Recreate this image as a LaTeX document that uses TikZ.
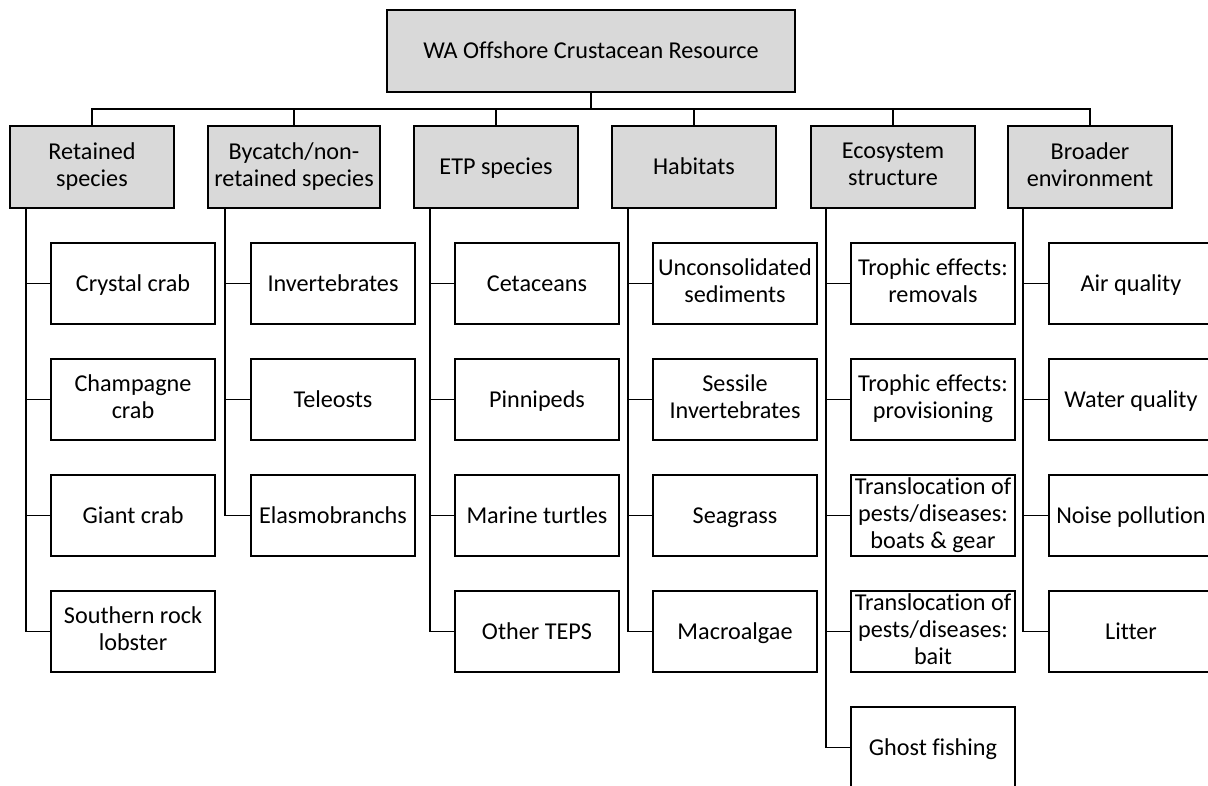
\documentclass[tikz,border=0pt]{standalone}
\usepackage{fontspec}
\setmainfont{Carlito}[Ligatures=NoCommon]
\definecolor{boxgray}{HTML}{D9D9D9}
\newcommand\boxstrut{\rule[-5.5pt]{0pt}{26.5pt}}

\begin{document}
\begin{tikzpicture}[x=1pt, y=-1pt,
  every node/.style={font=\fontsize{24.2}{27}\selectfont, align=center, inner sep=0pt,
    execute at begin node=\boxstrut, execute at end node=\boxstrut},
  rootbox/.style={draw, line width=1.8pt, fill=boxgray, minimum width=408pt, minimum height=82pt},
  catbox/.style={draw, line width=1.8pt, fill=boxgray, minimum width=164pt, minimum height=82pt},
  itembox/.style={draw, line width=1.8pt, fill=white, minimum width=164pt, minimum height=81pt},
  link/.style={line width=1.8pt}]
\clip (0,0) rectangle (1208,785);
\useasboundingbox (0,0) rectangle (1208,785);

% Top level
\node[rootbox] (root) at (591,51) {WA Offshore Crustacean Resource};
\coordinate (bus) at (591,109);

% Components
\node[catbox] (ret) at (92,167) {Retained\\species};
\node[catbox, minimum width=172pt] (byc) at (294,167) {Bycatch/non-\\retained species};
\node[catbox] (etp) at (496,167) {ETP species};
\node[catbox] (hab) at (694,167) {Habitats};
\node[catbox] (eco) at (893,167) {Ecosystem\\structure};
\node[catbox] (env) at (1090,167) {Broader\\environment};

% Retained species
\node[itembox] (ret1) at (133,283.5) {Crystal crab};
\node[itembox] (ret2) at (133,399.5) {Champagne\\crab};
\node[itembox] (ret3) at (133,515.5) {Giant crab};
\node[itembox] (ret4) at (133,631.5) {Southern rock\\lobster};

% Bycatch
\node[itembox] (byc1) at (333,283.5) {Invertebrates};
\node[itembox] (byc2) at (333,399.5) {Teleosts};
\node[itembox] (byc3) at (333,515.5) {Elasmobranchs};

% ETP species
\node[itembox] (etp1) at (537,283.5) {Cetaceans};
\node[itembox] (etp2) at (537,399.5) {Pinnipeds};
\node[itembox] (etp3) at (537,515.5) {Marine turtles};
\node[itembox] (etp4) at (537,631.5) {Other TEPS};

% Habitats
\node[itembox] (hab1) at (735,283.5) {Unconsolidated\\sediments};
\node[itembox] (hab2) at (735,399.5) {Sessile\\Invertebrates};
\node[itembox] (hab3) at (735,515.5) {Seagrass};
\node[itembox] (hab4) at (735,631.5) {Macroalgae};

% Ecosystem structure
\node[itembox] (eco1) at (933,283.5) {Trophic effects:\\removals};
\node[itembox] (eco2) at (933,399.5) {Trophic effects:\\provisioning};
\node[itembox] (eco3) at (933,515.5) {Translocation of\\pests/diseases:\\boats \& gear};
\node[itembox] (eco4) at (933,631.5) {Translocation of\\pests/diseases:\\bait};
\node[itembox] (eco5) at (933,747.5) {Ghost fishing};

% Broader environment
\node[itembox] (env1) at (1131,283.5) {Air quality};
\node[itembox] (env2) at (1131,399.5) {Water quality};
\node[itembox] (env3) at (1131,515.5) {Noise pollution};
\node[itembox] (env4) at (1131,631.5) {Litter};

% Bus lines
\draw[line width=2.8pt] (root.south) -- (bus);
\draw[link] (bus) -| (ret.north);
\draw[link] (bus) -| (byc.north);
\draw[link] (bus) -| (etp.north);
\draw[link] (bus) -| (hab.north);
\draw[link] (bus) -| (eco.north);
\draw[link] (bus) -| (env.north);

% Trunks
\coordinate (retT) at ([xshift=17pt]ret.south west);
\coordinate (bycT) at ([xshift=18pt]byc.south west);
\coordinate (etpT) at ([xshift=17pt]etp.south west);
\coordinate (habT) at ([xshift=17pt]hab.south west);
\coordinate (ecoT) at ([xshift=16pt]eco.south west);
\coordinate (envT) at ([xshift=16pt]env.south west);

\draw[link] (retT) |- (ret1.west);
\draw[link] (retT) |- (ret2.west);
\draw[link] (retT) |- (ret3.west);
\draw[link] (retT) |- (ret4.west);

\draw[link] (bycT) |- (byc1.west);
\draw[link] (bycT) |- (byc2.west);
\draw[link] (bycT) |- (byc3.west);

\draw[link] (etpT) |- (etp1.west);
\draw[link] (etpT) |- (etp2.west);
\draw[link] (etpT) |- (etp3.west);
\draw[link] (etpT) |- (etp4.west);

\draw[link] (habT) |- (hab1.west);
\draw[link] (habT) |- (hab2.west);
\draw[link] (habT) |- (hab3.west);
\draw[link] (habT) |- (hab4.west);

\draw[link] (ecoT) |- (eco1.west);
\draw[link] (ecoT) |- (eco2.west);
\draw[link] (ecoT) |- (eco3.west);
\draw[link] (ecoT) |- (eco4.west);
\draw[link] (ecoT) |- (eco5.west);

\draw[link] (envT) |- (env1.west);
\draw[link] (envT) |- (env2.west);
\draw[link] (envT) |- (env3.west);
\draw[link] (envT) |- (env4.west);
\end{tikzpicture}
\end{document}
